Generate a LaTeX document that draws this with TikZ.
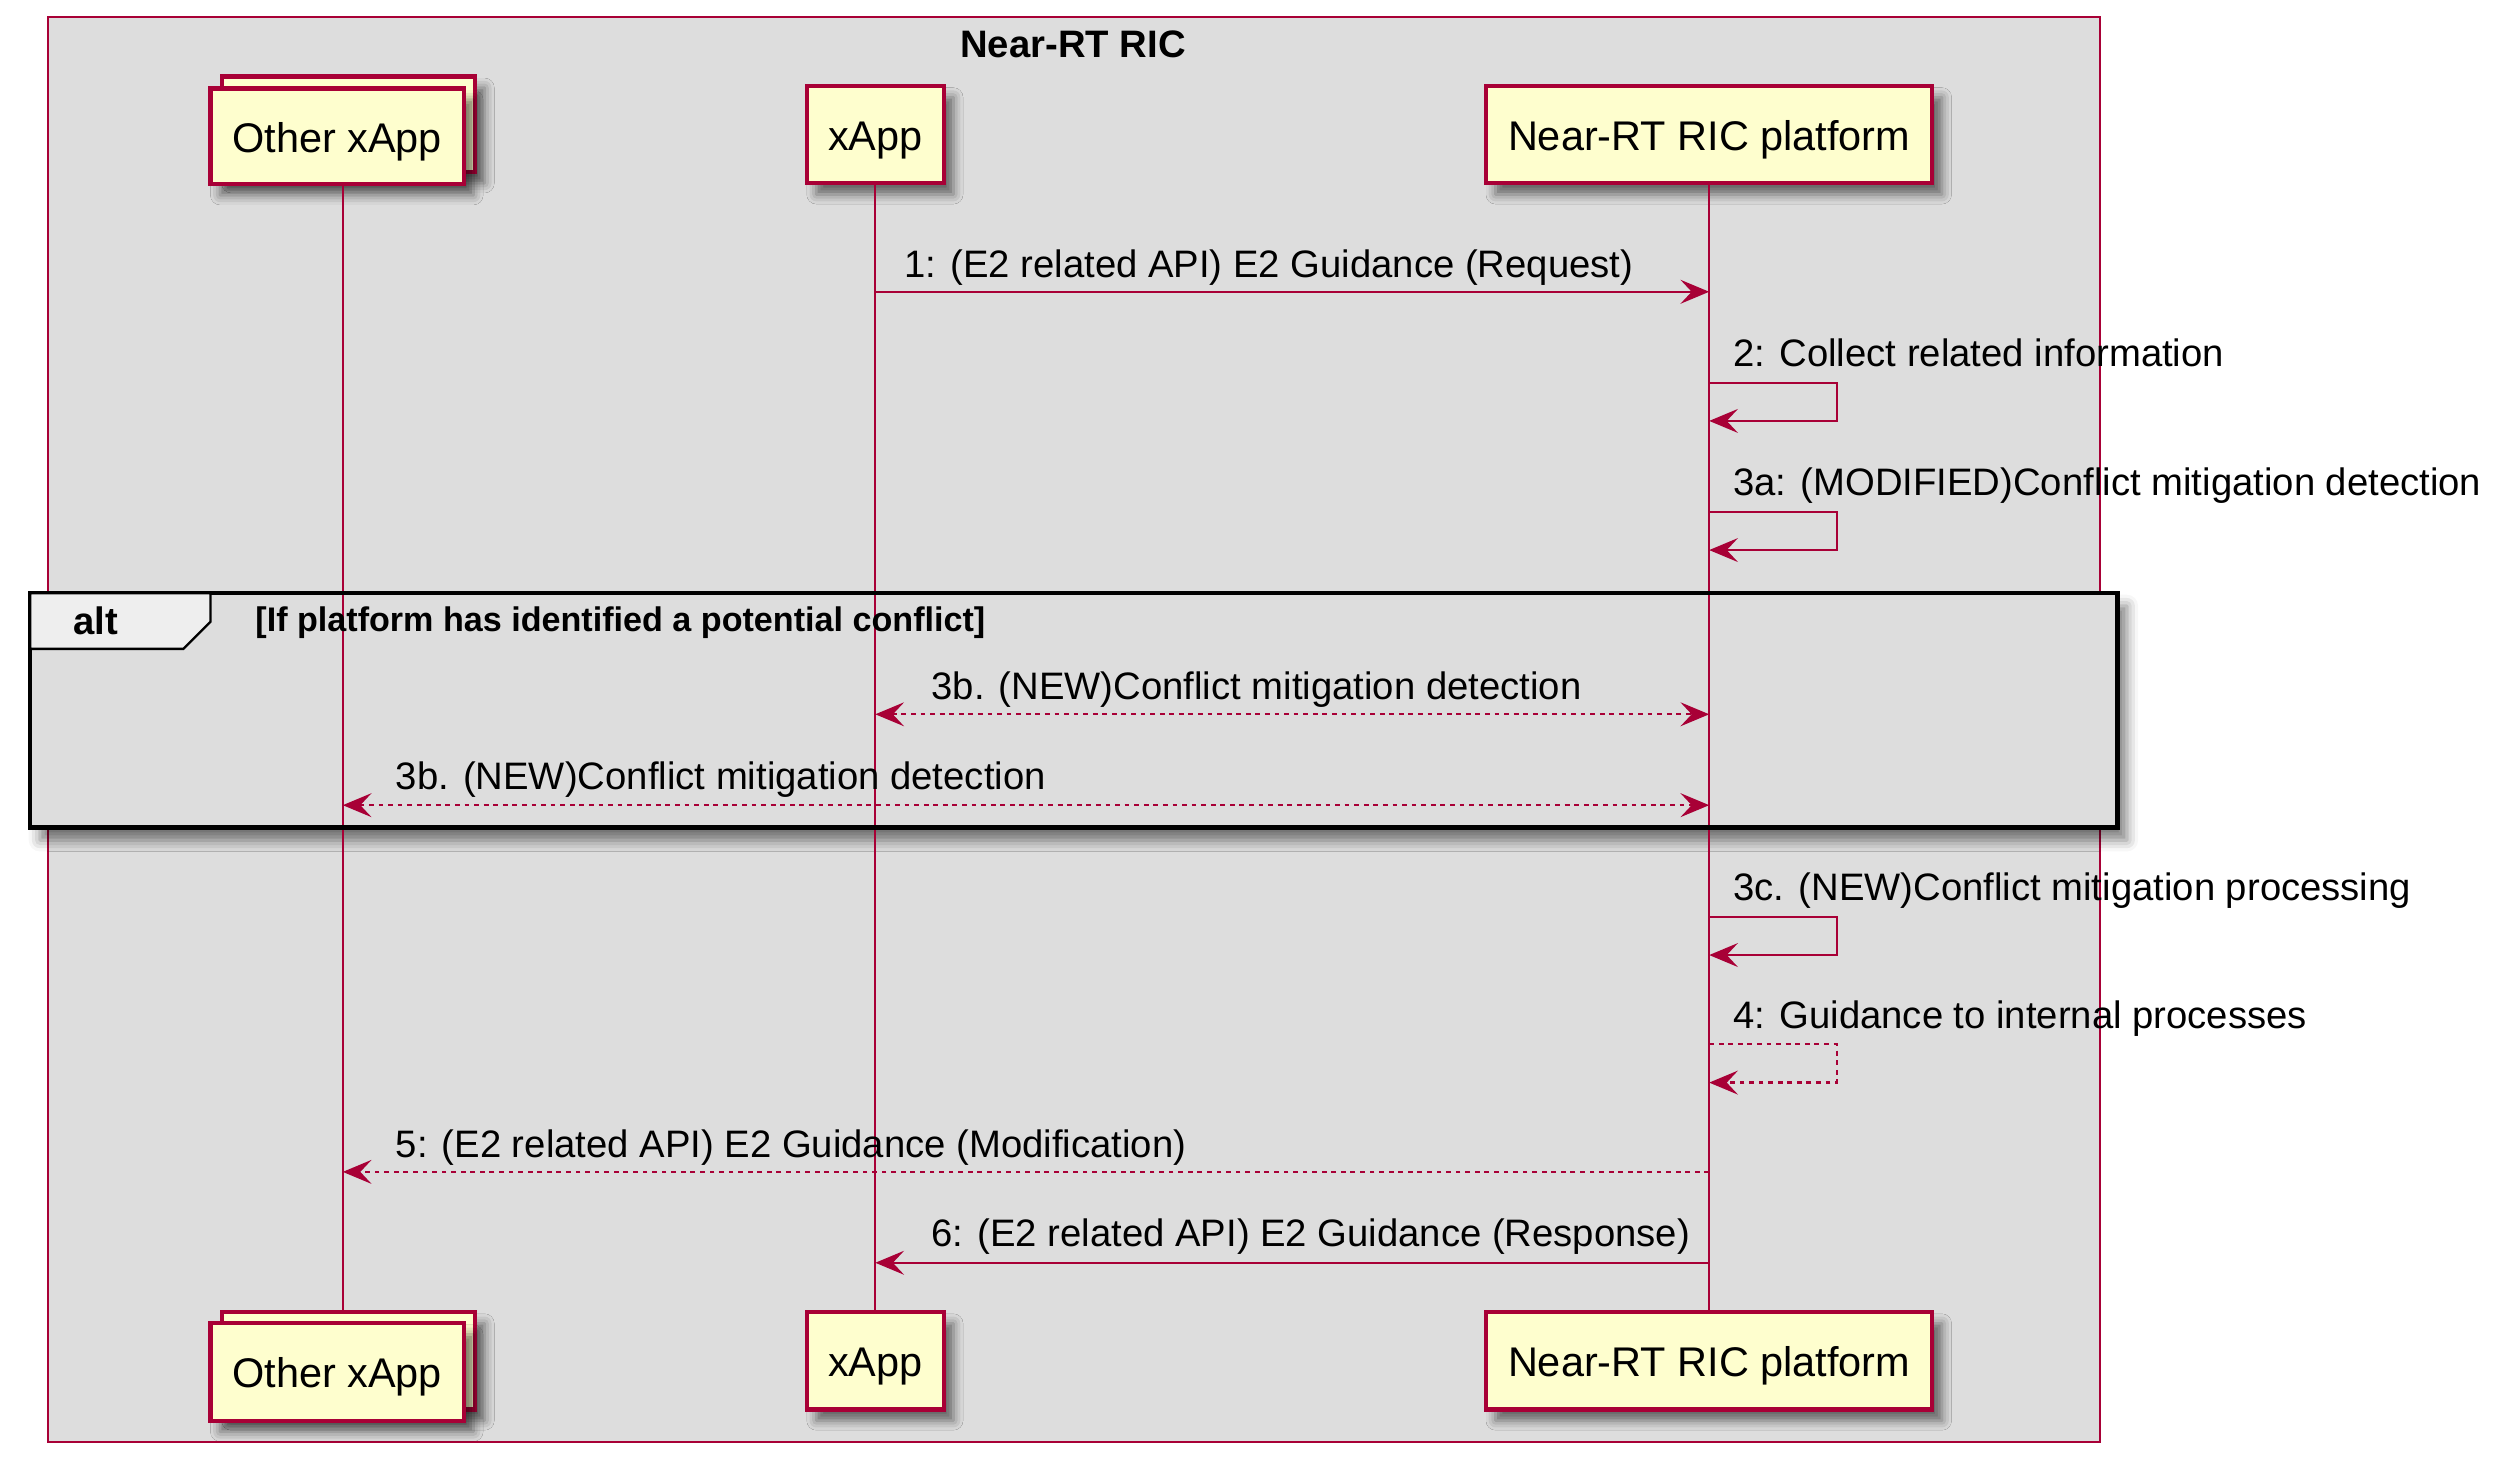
\documentclass[tikz,border=0pt]{standalone}
\usepackage{fontspec}
\setmainfont{Liberation Sans}
\usetikzlibrary{arrows.meta,shadows.blur,calc}
\definecolor{crim}{HTML}{A80036}
\definecolor{pfill}{HTML}{FEFECE}
\definecolor{bgray}{HTML}{DDDDDD}
\definecolor{tabfill}{HTML}{EEEEEE}
\begin{document}
\begin{tikzpicture}[x=1pt,y=-1pt,
  pshadow/.style={blur shadow={shadow xshift=6pt, shadow yshift=-7pt, shadow blur radius=6pt, shadow opacity=55}},
  part/.style={draw=crim, fill=pfill, line width=2.6pt, inner sep=0pt, pshadow,
    text height=22pt, text depth=2pt, font=\fontsize{26}{30}\selectfont},
  life/.style={draw=crim, line width=1.2pt},
  msg/.style={draw=crim, line width=1.4pt, -{Stealth[length=18pt,width=15pt,inset=7pt]}},
  dmsg/.style={msg, dash pattern=on 3pt off 3pt},
  bmsg/.style={dmsg, {Stealth[length=18pt,width=15pt,inset=7pt]}-{Stealth[length=18pt,width=15pt,inset=7pt]}},
  lbl/.style={anchor=base west, inner sep=0pt, font=\fontsize{24}{28}\selectfont}
]
\useasboundingbox (0,0) rectangle (1568,915.7);
% outer box
\draw[crim, fill=bgray, line width=1.3pt] (30,10.5) rectangle (1317,904.5);
\node[anchor=base, inner sep=0pt, font=\fontsize{24}{28}\selectfont\bfseries] (title) at (673,36) {Near-RT RIC};

% alt frame background with shadow
\path[fill=bgray, blur shadow={shadow xshift=6pt, shadow yshift=-8pt, shadow blur radius=7pt, shadow opacity=50}] (19,372) rectangle (1328,519);

% participants top
\node[part, minimum width=159pt, minimum height=60pt] (otherBackT) at (218.5,78) {};
\node[part, minimum width=159pt, minimum height=60pt] (otherT) at (211.5,85.5) {Other xApp};
\node[part, minimum width=86pt, minimum height=61pt] (xT) at (549,84.5) {xApp};
\node[part, minimum width=280pt, minimum height=61pt] (pT) at (1072,84.5) {Near-RT RIC platform};

% participants bottom
\node[part, minimum width=159pt, minimum height=61pt] (otherBackB) at (218.5,853.5) {};
\node[part, minimum width=159pt, minimum height=61pt] (otherB) at (211.5,860.5) {Other xApp};
\node[part, minimum width=86pt, minimum height=61pt] (xB) at (549,853.5) {xApp};
\node[part, minimum width=280pt, minimum height=61pt] (pB) at (1072,853.5) {Near-RT RIC platform};

% lifeline coordinates
\coordinate (lo) at ($(otherT.center)!0.5!(otherBackT.center)$);
\coordinate (lx) at (xT.center);
\coordinate (lp) at (pT.center);

\draw[life] (lo |- otherT.south) -- (lo |- otherBackB.north);
\draw[life] (xT.south) -- (xB.north);
\draw[life] (pT.south) -- (pB.north);

% alt frame
\draw[black, line width=2.7pt] (19,372) rectangle (1328,519);
\draw[black, line width=1.5pt, fill=tabfill] (19,372) -- (132,372) -- (132,390) -- (115,407) -- (19,407) -- cycle;
\node[anchor=base west, inner sep=0pt, font=\fontsize{24}{28}\selectfont\bfseries] (alt) at (46,398) {alt};
\node[anchor=base west, inner sep=0pt, font=\fontsize{21.4}{25}\selectfont\bfseries] (cond) at (160,396) {[If platform has identified a potential conflict]};

% messages
\draw[msg] (lx |- 0,183) -- (lp |- 0,183);
\node[lbl] (m1) at (567,174) {1: (E2 related API) E2 Guidance (Request)};

\draw[msg] (lp |- 0,240) -- ++(80,0) -- ++(0,24) -- ++(-80,0);
\node[lbl] (m2) at (1087,230) {2: Collect related information};

\draw[msg] (lp |- 0,321) -- ++(80,0) -- ++(0,24) -- ++(-80,0);
\node[lbl] (m3a) at (1087,311) {3a: (MODIFIED)Conflict mitigation detection};

\draw[bmsg] (lx |- 0,448) -- (lp |- 0,448);
\node[lbl] (m3b1) at (584,439) {3b. (NEW)Conflict mitigation detection};

\draw[bmsg] (lo |- 0,505) -- (lp |- 0,505);
\node[lbl] (m3b2) at (248,495) {3b. (NEW)Conflict mitigation detection};

\draw[msg] (lp |- 0,575) -- ++(80,0) -- ++(0,24) -- ++(-80,0);
\node[lbl] (m3c) at (1087,565) {3c. (NEW)Conflict mitigation processing};

\draw[dmsg] (lp |- 0,655) -- ++(80,0) -- ++(0,24) -- ++(-80,0);
\node[lbl] (m4) at (1087,645) {4: Guidance to internal processes};

\draw[dmsg] (lp |- 0,735) -- (lo |- 0,735);
\node[lbl] (m5) at (248,726) {5: (E2 related API) E2 Guidance (Modification)};

\draw[msg] (lp |- 0,792) -- (lx |- 0,792);
\node[lbl] (m6) at (584,782) {6: (E2 related API) E2 Guidance (Response)};
\end{tikzpicture}
\end{document}
